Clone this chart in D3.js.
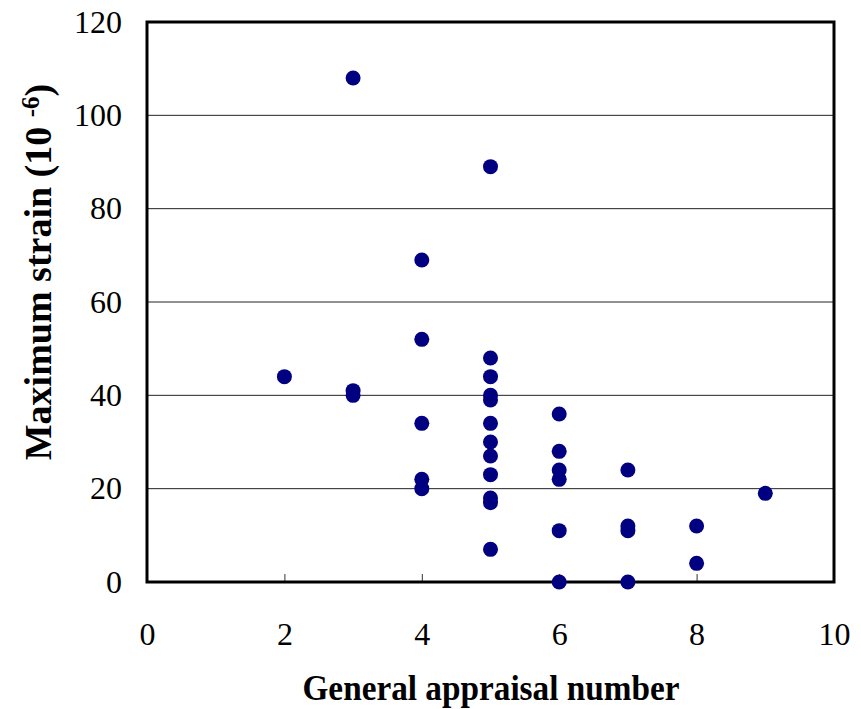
<!DOCTYPE html>
<html>
<head>
<meta charset="utf-8">
<script src="https://cdn.jsdelivr.net/npm/d3@7"></script>
<style>
  body { margin: 0; background: #fff; }
  text { font-family: "Liberation Serif", "Times New Roman", serif; }
</style>
</head>
<body>
<div id="scatter"></div>
<script>
// Define SVG area dimensions
var svgWidth = 861;
var svgHeight = 709;

// Margins around the plot frame
var margin = { top: 22, right: 27, bottom: 127, left: 147 };

var chartWidth = svgWidth - margin.left - margin.right;
var chartHeight = svgHeight - margin.top - margin.bottom;

// Data
var appraisal = [2, 3, 3, 3, 4, 4, 4, 4, 4,
  5, 5, 5, 5, 5, 5, 5, 5, 5, 5, 5, 5,
  6, 6, 6, 6, 6, 6, 7, 7, 7, 7, 8, 8, 9];
var strain = [44, 108, 41, 40, 69, 52, 34, 22, 20,
  89, 48, 44, 40, 39, 34, 30, 27, 23, 18, 17, 7,
  36, 28, 24, 22, 11, 0, 24, 12, 11, 0, 12, 4, 19];
var xTicks = [0, 2, 4, 6, 8, 10];
var yTicks = [0, 20, 40, 60, 80, 100, 120];

var points = appraisal.map(function(a, i) { return { x: a, y: strain[i] }; });

var svg = d3.select("#scatter")
  .append("svg")
  .attr("width", svgWidth)
  .attr("height", svgHeight);

var chartGroup = svg.append("g")
  .attr("transform", `translate(${margin.left}, ${margin.top})`);

var x = d3.scaleLinear().domain([0, 10]).range([0, chartWidth]);
var y = d3.scaleLinear().domain([0, 120]).range([chartHeight, 0]);

// horizontal grid lines
chartGroup.append("g")
  .selectAll("line")
  .data(yTicks.slice(1, -1))
  .enter()
  .append("line")
    .attr("x1", 0)
    .attr("x2", chartWidth)
    .attr("y1", d => y(d))
    .attr("y2", d => y(d))
    .style("stroke", "#222")
    .style("stroke-width", 1);

// x axis: ticks pointing up into the plot
var bottomAxis = d3.axisBottom(x).tickValues(xTicks).tickSize(-8).tickPadding(40);
var xAxisG = chartGroup.append("g")
  .attr("transform", `translate(0, ${chartHeight})`)
  .call(bottomAxis);
xAxisG.select(".domain").remove();
xAxisG.selectAll("text").style("font-size", "32px").attr("dy", "0.71em");
xAxisG.selectAll("line").style("stroke", "#333");

var leftAxis = d3.axisLeft(y).tickValues(yTicks).tickSize(0).tickPadding(25);
var yAxisG = chartGroup.append("g").call(leftAxis);
yAxisG.select(".domain").remove();
yAxisG.selectAll("text").style("font-size", "32px");

// plot frame
chartGroup.append("rect")
  .attr("x", 0)
  .attr("y", 0)
  .attr("width", chartWidth)
  .attr("height", chartHeight)
  .style("fill", "none")
  .style("stroke", "#000")
  .style("stroke-width", 3);

// scatter points
chartGroup.append("g")
  .selectAll("circle")
  .data(points)
  .enter()
  .append("circle")
    .attr("cx", d => x(d.x))
    .attr("cy", d => y(d.y))
    .attr("r", 7.5)
    .style("fill", "#000080");

// axis titles
svg.append("text")
  .attr("x", 491)
  .attr("y", 700)
  .attr("text-anchor", "middle")
  .attr("textLength", 377)
  .attr("lengthAdjust", "spacingAndGlyphs")
  .style("font-size", "35px")
  .style("font-weight", "bold")
  .text("General appraisal number");

var yTitle = svg.append("text")
  .attr("transform", "translate(51, 272) rotate(-90)")
  .attr("text-anchor", "middle")
  .style("font-size", "38px")
  .style("font-weight", "bold");
yTitle.append("tspan").text("Maximum strain (10 ");
yTitle.append("tspan").attr("dy", "-0.5em").style("font-size", "25px").text("-6");
yTitle.append("tspan").attr("dy", "0.33em").text(")");
</script>
</body>
</html>
